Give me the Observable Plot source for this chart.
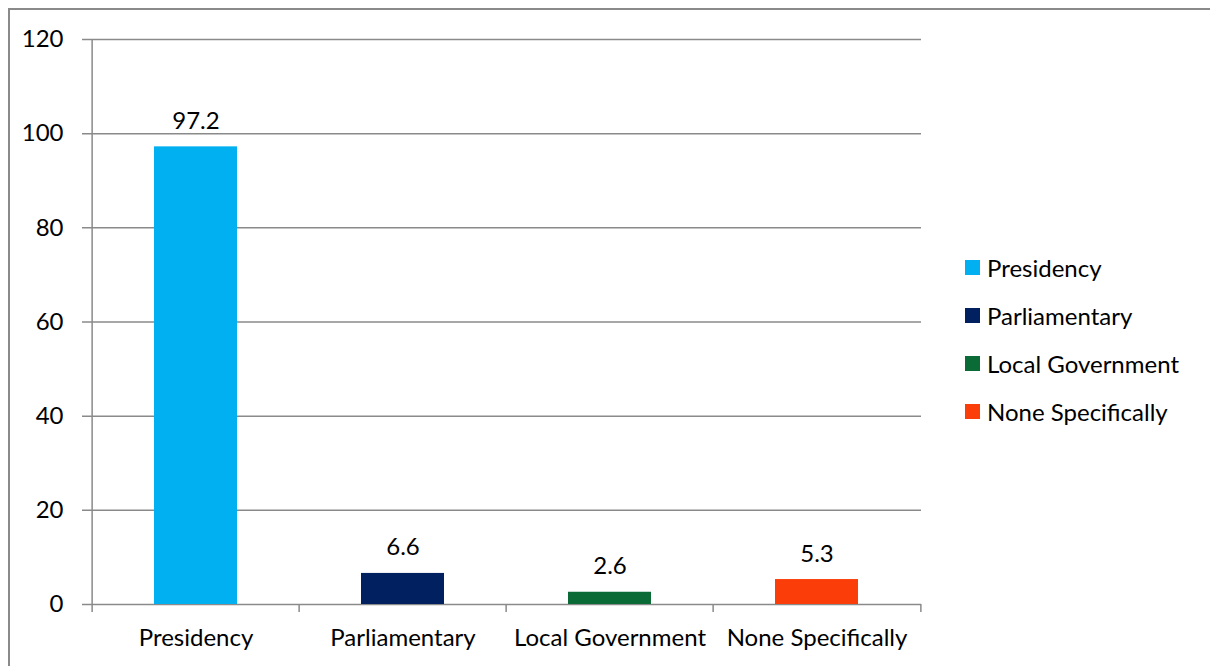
<!DOCTYPE html>
<html>
<head>
<meta charset="utf-8">
<script src="https://cdn.jsdelivr.net/npm/d3@7"></script>
<script src="https://cdn.jsdelivr.net/npm/@observablehq/plot@0.6"></script>
<style>
  html, body { margin: 0; padding: 0; background: #fff; overflow: hidden; }
  #wrap { position: relative; width: 1210px; height: 666px; font-family: Lato, "Open Sans", sans-serif; }
  #frame { position: absolute; left: 8px; top: 8px; width: 1220px; height: 680px; border: 2px solid #8a8a8a; box-sizing: border-box; }
  #legend { position: absolute; left: 965px; top: 243px; font-size: 24px; color: #000; }
  .item { display: flex; align-items: center; height: 48px; }
  .sw { width: 15px; height: 15px; margin-right: 7px; }
</style>
</head>
<body>
<div id="wrap">
  <div id="frame"></div>
  <div id="chart"></div>
  <div id="legend"></div>
</div>
<script>
const categories = ["Presidency", "Parliamentary", "Local Government", "None Specifically"];
const values = [97.2, 6.6, 2.6, 5.3];
const colors = ["#00B0F0", "#002060", "#0B6B37", "#FB3D09"];
const yTicks = [0, 20, 40, 60, 80, 100, 120];

const data = categories.map((c, i) => ({category: c, value: values[i], color: colors[i]}));

const W = 1210, H = 666;
const mL = 90, mR = 289, mT = 39, mB = 62;
const pi = 0.6, po = 0.3;
const step = (W - mL - mR) / (categories.length - pi + 2 * po);
const grid = "#8a8a8a";
const FS = 24;

const chart = Plot.plot({
  width: W, height: H,
  marginLeft: mL, marginRight: mR, marginTop: mT, marginBottom: mB,
  style: {fontFamily: "Lato, 'Open Sans', sans-serif", fontSize: FS + "px", color: "#000", background: "transparent", overflow: "visible"},
  x: {domain: categories, paddingInner: pi, paddingOuter: po, label: null},
  y: {domain: [0, 120], label: null},
  color: {domain: categories, range: colors},
  marks: [
    Plot.ruleY(yTicks, {stroke: grid, strokeWidth: 1.5, insetLeft: -8}),
    Plot.ruleX([categories[0]], {y1: 120, y2: 0, dx: -step / 2, stroke: grid, strokeWidth: 1.5, insetBottom: -8}),
    Plot.ruleX(categories.slice(1), {y1: 0, y2: 0, dx: -step / 2, stroke: grid, strokeWidth: 1.5, insetBottom: -8}),
    Plot.ruleX([categories[categories.length - 1]], {y1: 0, y2: 0, dx: step / 2, stroke: grid, strokeWidth: 1.5, insetBottom: -8}),
    Plot.barY(data, {x: "category", y: "value", fill: "category"}),
    Plot.text(data, {x: "category", y: "value", text: d => d.value.toFixed(1), lineAnchor: "bottom", dy: -18, fill: "#000", fontSize: FS}),
    Plot.axisY({ticks: yTicks, tickSize: 0, tickPadding: 27, fontSize: FS, fill: "#000", label: null}),
    Plot.axisX({tickSize: 0, tickPadding: 24, fontSize: FS, fill: "#000", label: null})
  ]
});
document.getElementById("chart").appendChild(chart);

const legend = document.getElementById("legend");
categories.forEach((c, i) => {
  const row = document.createElement("div");
  row.className = "item";
  const sw = document.createElement("div");
  sw.className = "sw";
  sw.style.background = colors[i];
  const lab = document.createElement("span");
  lab.textContent = c;
  row.appendChild(sw);
  row.appendChild(lab);
  legend.appendChild(row);
});
</script>
</body>
</html>
